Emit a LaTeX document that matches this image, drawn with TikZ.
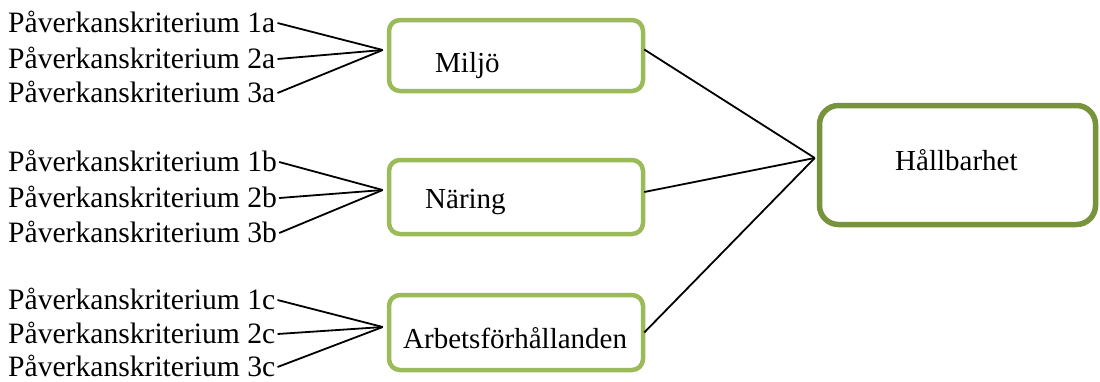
\documentclass[tikz,border=0pt]{standalone}
\usepackage{fontspec}
\setmainfont{Liberation Serif}
\usetikzlibrary{calc}
\definecolor{lightgreen}{HTML}{9BBB59}
\definecolor{darkgreen}{HTML}{77933C}
\tikzset{
  crit/.style={anchor=base west, inner sep=0pt, font=\fontsize{29.6}{33}\selectfont},
  boxtext/.style={anchor=base west, inner sep=0pt, font=\fontsize{29}{33}\selectfont},
  smallbox/.style={draw=lightgreen, line width=4.5pt, rounded corners=11pt, minimum width=254pt, inner sep=0pt, fill=white},
  bigbox/.style={draw=darkgreen, line width=5.5pt, rounded corners=19pt, minimum width=276pt, minimum height=119pt, inner sep=0pt, fill=white},
  conn/.style={draw=black, line width=1.8pt}
}
\begin{document}
\begin{tikzpicture}[x=1pt,y=-1pt]
\useasboundingbox (0,0) rectangle (1100,381);
% boxes
\node[smallbox, minimum height=71pt] (miljo) at (516,55.5) {};
\node[smallbox, minimum height=74pt] (naring) at (516,197) {};
\node[smallbox, minimum height=75pt] (arbets) at (516,332.5) {};
\node[bigbox] (hall) at (957.5,165) {};
% box texts
\node[boxtext] (tmiljo) at (435,72) {Miljö};
\node[boxtext] (tnaring) at (425,208) {Näring};
\node[boxtext] (tarbets) at (403,348) {Arbetsförhållanden};
\node[boxtext] (thall) at (895,170) {Hållbarhet};
% criteria
\node[crit] (a1) at (8,32) {Påverkanskriterium 1a};
\node[crit] (a2) at (8,68) {Påverkanskriterium 2a};
\node[crit] (a3) at (8,102) {Påverkanskriterium 3a};
\node[crit] (b1) at (8,171) {Påverkanskriterium 1b};
\node[crit] (b2) at (8,207) {Påverkanskriterium 2b};
\node[crit] (b3) at (8,242) {Påverkanskriterium 3b};
\node[crit] (c1) at (8,309) {Påverkanskriterium 1c};
\node[crit] (c2) at (8,343) {Påverkanskriterium 2c};
\node[crit] (c3) at (8,376) {Påverkanskriterium 3c};
% convergence points
\coordinate (ia) at ($(miljo.west)+(-4,-5.5)$);
\coordinate (ib) at ($(naring.west)+(-4,-7)$);
\coordinate (ic) at ($(arbets.west)+(-4,-5.5)$);
\coordinate (ih) at ($(hall.west)+(-2,-7)$);
% connectors
\foreach \n in {a1,a2,a3}{\draw[conn] ($(\n.base east)+(2,-9)$) -- (ia);}
\foreach \n in {b1,b2,b3}{\draw[conn] ($(\n.base east)+(2,-9)$) -- (ib);}
\foreach \n in {c1,c2,c3}{\draw[conn] ($(\n.base east)+(2,-9)$) -- (ic);}
\draw[conn] ($(miljo.east)+(-1,-6)$) -- (ih);
\draw[conn] ($(naring.east)+(-1,-5)$) -- (ih);
\draw[conn] ($(arbets.east)+(-1,0)$) -- (ih);
\end{tikzpicture}
\end{document}
